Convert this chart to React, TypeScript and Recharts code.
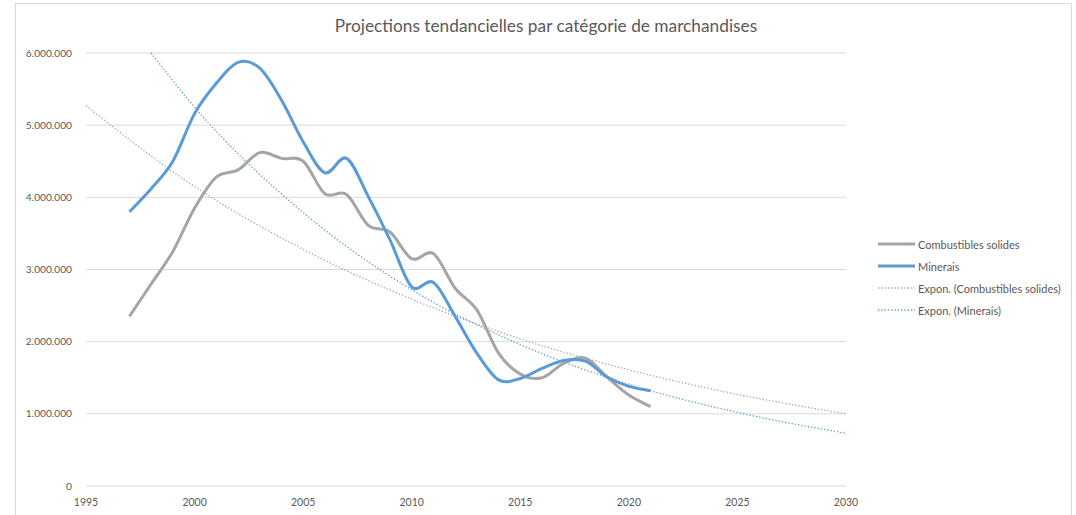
import React from 'react';
import { LineChart, Line, XAxis, YAxis, CartesianGrid } from 'recharts';

const years = [1997, 1998, 1999, 2000, 2001, 2002, 2003, 2004, 2005, 2006, 2007, 2008, 2009, 2010, 2011, 2012, 2013, 2014, 2015, 2016, 2017, 2018, 2019, 2020, 2021];
const combustibles = [2350000, 2800000, 3250000, 3850000, 4280000, 4380000, 4620000, 4540000, 4500000, 4050000, 4040000, 3610000, 3520000, 3150000, 3220000, 2740000, 2440000, 1840000, 1550000, 1500000, 1700000, 1770000, 1510000, 1260000, 1100000];
const minerais = [3800000, 4120000, 4500000, 5160000, 5580000, 5870000, 5790000, 5350000, 4770000, 4340000, 4540000, 4010000, 3410000, 2760000, 2820000, 2350000, 1840000, 1470000, 1490000, 1630000, 1740000, 1730000, 1510000, 1380000, 1320000];

// trend lines
const trendCombYears = [1995, 2000, 2005, 2010, 2015, 2020, 2025, 2030];
const trendComb = [5270000, 4150000, 3280000, 2590000, 2040000, 1610000, 1270000, 1000000];
const trendMinYears = [1998, 2000, 2005, 2010, 2015, 2020, 2025, 2030];
const trendMin = [6000000, 5250000, 3790000, 2720000, 1960000, 1410000, 1020000, 730000];

const xTicks = [1995, 2000, 2005, 2010, 2015, 2020, 2025, 2030];
const yTicks = [0, 1000000, 2000000, 3000000, 4000000, 5000000, 6000000];

const GRAY = '#A5A5A5';
const BLUE = '#5B9BD5';
const TEXT = '#595959';
const FONT = 'Lato, "Open Sans", sans-serif';

type Row = { year: number; comb?: number; min?: number; tComb?: number; tMin?: number };

const byYear: Record<number, Row> = {};
const put = (yrs: number[], vals: number[], key: keyof Row) => {
  yrs.forEach((y, i) => {
    if (!byYear[y]) byYear[y] = { year: y };
    (byYear[y] as any)[key] = vals[i];
  });
};
put(years, combustibles, 'comb');
put(years, minerais, 'min');
put(trendCombYears, trendComb, 'tComb');
put(trendMinYears, trendMin, 'tMin');
const data = Object.values(byYear).sort((a, b) => a.year - b.year);

const fmt = (v: number) => String(v).replace(/\B(?=(\d{3})+(?!\d))/g, '.');

// excel-like smoothing (catmull-rom through the points)
const smooth = (ctx: any) => {
  let pts: [number, number][] = [];
  return {
    areaStart() {},
    areaEnd() {},
    lineStart() { pts = []; },
    point(x: number, y: number) { pts.push([+x, +y]); },
    lineEnd() {
      if (!pts.length) return;
      ctx.moveTo(pts[0][0], pts[0][1]);
      for (let i = 0; i < pts.length - 1; i++) {
        const p0 = pts[i - 1] || pts[i];
        const p1 = pts[i];
        const p2 = pts[i + 1];
        const p3 = pts[i + 2] || p2;
        ctx.bezierCurveTo(
          p1[0] + (p2[0] - p0[0]) / 6, p1[1] + (p2[1] - p0[1]) / 6,
          p2[0] - (p3[0] - p1[0]) / 6, p2[1] - (p3[1] - p1[1]) / 6,
          p2[0], p2[1],
        );
      }
    },
  };
};

const legendItems = [
  { label: 'Combustibles solides', color: GRAY, dotted: false },
  { label: 'Minerais', color: BLUE, dotted: false },
  { label: 'Expon. (Combustibles solides)', color: GRAY, dotted: true },
  { label: 'Expon. (Minerais)', color: BLUE, dotted: true },
];

function LegendBox() {
  return (
    <div style={{ position: 'absolute', left: 878, top: 233, fontFamily: FONT, fontSize: 11, color: TEXT }}>
      {legendItems.map((it) => (
        <div key={it.label} style={{ display: 'flex', alignItems: 'center', height: 22 }}>
          <svg width={38} height={10}>
            <line x1={0} y1={5} x2={37} y2={5} stroke={it.color} strokeWidth={it.dotted ? 1.3 : 3}
              strokeDasharray={it.dotted ? '1.3 2' : undefined} />
          </svg>
          <span style={{ marginLeft: 2, whiteSpace: 'nowrap' }}>{it.label}</span>
        </div>
      ))}
    </div>
  );
}

export default function App() {
  return (
    <div style={{ position: 'absolute', left: 0, top: 0, width: 1076, height: 515, background: '#fff', overflow: 'hidden' }}>
      <div style={{ position: 'absolute', left: 15, top: 3, width: 1055, height: 520, border: '1px solid #d9d9d9' }} />
      <div style={{ position: 'absolute', left: 0, top: 15, width: 1092, textAlign: 'center', fontFamily: FONT, fontSize: 17.3, color: TEXT }}>
        Projections tendancielles par catégorie de marchandises
      </div>
      <div style={{ position: 'absolute', left: 0, top: 0 }}>
        <LineChart width={1076} height={515} data={data} margin={{ top: 53, right: 230, left: 10, bottom: 5 }}>
          <CartesianGrid vertical={false} stroke="#D9D9D9" strokeWidth={1} />
          <XAxis dataKey="year" type="number" domain={[1995, 2030]} ticks={xTicks} axisLine={false} tickLine={false}
            height={24} tick={{ fill: TEXT, fontSize: 10.5, fontFamily: FONT }} tickMargin={7} interval={0} />
          <YAxis type="number" domain={[0, 6000000]} ticks={yTicks} tickFormatter={fmt} axisLine={false} tickLine={false}
            width={76} tick={{ fill: TEXT, fontSize: 10.2, fontFamily: FONT }} tickMargin={8} interval={0} />
          <Line dataKey="tComb" type="monotone" stroke={GRAY} strokeWidth={1.3} strokeDasharray="1.3 2" dot={false}
            connectNulls isAnimationActive={false} />
          <Line dataKey="tMin" type="monotone" stroke={BLUE} strokeWidth={1.3} strokeDasharray="1.3 2" dot={false}
            connectNulls isAnimationActive={false} />
          <Line dataKey="comb" type={smooth as any} stroke={GRAY} strokeWidth={3} dot={false} connectNulls isAnimationActive={false} />
          <Line dataKey="min" type={smooth as any} stroke={BLUE} strokeWidth={3} dot={false} connectNulls isAnimationActive={false} />
        </LineChart>
      </div>
      <LegendBox />
    </div>
  );
}
